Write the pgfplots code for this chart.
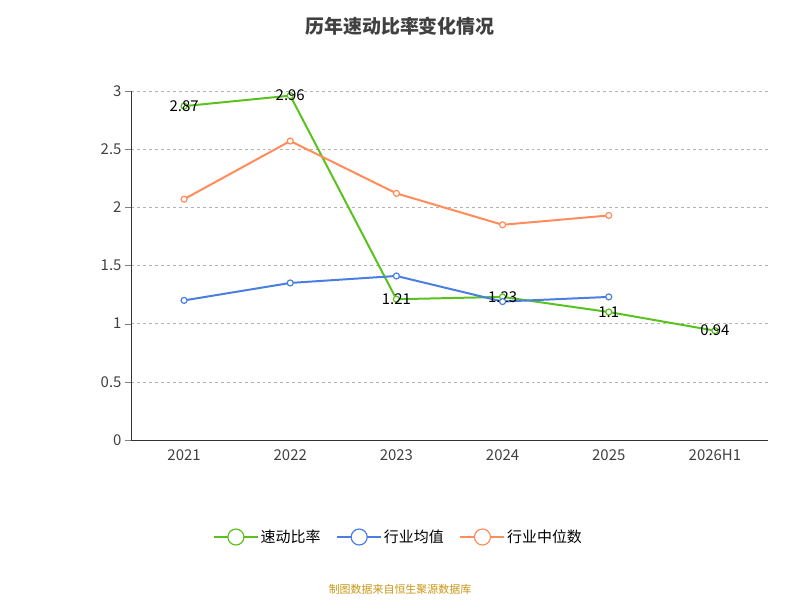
\documentclass[border=0pt]{standalone}
\usepackage{pgfplots}
\pgfplotsset{compat=1.18}
\usepackage{fontspec}
\setmainfont{Noto Sans CJK SC}
\definecolor{cg}{HTML}{5AC21E}
\definecolor{cb}{HTML}{4A7EE0}
\definecolor{co}{HTML}{FF8C5A}
\begin{document}
\begin{tikzpicture}
\path (0bp,0bp) rectangle (800bp,600bp);
\node[font=\bfseries\fontsize{19}{22}\selectfont,text=black!75] at (400bp,574bp) {历年速动比率变化情况};
\node[font=\fontsize{11}{13}\selectfont,text={rgb,255:red,200;green,150;blue,20}] at (400bp,11bp) {制图数据来自恒生聚源数据库};
\begin{axis}[at={(131bp,160bp)},anchor=south west,scale only axis,width=637bp,height=349bp,
 xmin=-0.5,xmax=5.5,ymin=0,ymax=3,
 xtick={0,...,5},xticklabels={2021,2022,2023,2024,2025,2026H1},
 major x tick style={draw=none},
 extra x ticks={-0.5,0.5,...,5.5},extra x tick labels={},
 extra x tick style={tick style={draw=black!80}},
 ytick={0,0.5,...,3},yticklabels={0,0.5,1,1.5,2,2.5,3},
 ymajorgrids,grid style={dashed,black!30},
 axis x line*=bottom,axis y line*=left,
 axis line style={black!80},
 tick align=outside,major tick length=6bp,
 tick label style={font=\fontsize{15}{17}\selectfont,text=black!75},
 legend columns=3,legend style={draw=none,at={(0.42,-0.278)},anchor=center,font=\fontsize{15}{17}\selectfont,/tikz/every even column/.append style={column sep=14bp}},
 legend image code/.code={\draw[#1,line width=1.5pt] (0bp,0bp)--(44bp,0bp); \draw[#1,fill=white,line width=1.2pt] (22bp,0bp) circle (8bp);},
 every axis plot/.append style={line width=2pt,mark=*,mark size=3bp,mark options={fill=white,line width=1.2pt}},
]
\addplot[cg,nodes near coords,point meta=explicit symbolic,every node near coord/.style={anchor=center,text=black,font=\fontsize{15}{17}\selectfont}] coordinates {(0,2.87)[2.87] (1,2.96)[2.96] (2,1.21)[1.21] (3,1.23)[1.23] (4,1.1)[1.1] (5,0.94)[0.94]};
\addlegendentry{速动比率}
\addplot[cb] coordinates {(0,1.2) (1,1.35) (2,1.41) (3,1.19) (4,1.23)};
\addlegendentry{行业均值}
\addplot[co] coordinates {(0,2.07) (1,2.57) (2,2.12) (3,1.85) (4,1.93)};
\addlegendentry{行业中位数}
\end{axis}
\end{tikzpicture}
\end{document}
